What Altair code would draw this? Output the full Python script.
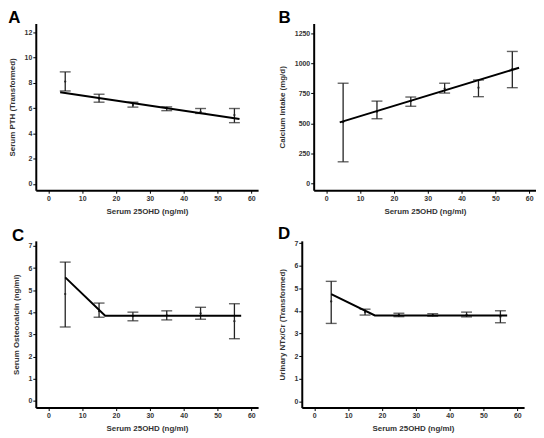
import altair as alt
import pandas as pd

x_vals = [5, 15, 25, 35, 45, 55]

# Panel A: Serum PTH (Transformed)
a_mean = [8.1, 6.75, 6.25, 6.0, 5.7, 5.45]
a_lo = [7.36, 6.47, 6.08, 5.8, 5.58, 4.85]
a_hi = [8.87, 7.1, 6.47, 6.1, 5.97, 5.97]
a_line_x = [3.5, 56.5]
a_line_y = [7.25, 5.14]

# Panel B: Calcium Intake (mg/d)
b_mean = [510, 598, 686, 790, 798, 953]
b_lo = [180, 539, 643, 753, 723, 798]
b_hi = [835, 686, 720, 835, 862, 1100]
b_line_x = [4, 57]
b_line_y = [509, 964]

# Panel C: Serum Osteocalcin (ng/ml)
c_mean = [4.83, 4.05, 3.83, 3.87, 3.95, 3.6]
c_lo = [3.34, 3.78, 3.62, 3.66, 3.69, 2.81]
c_hi = [6.27, 4.42, 4.01, 4.07, 4.23, 4.39]
c_line_x = [5, 16.8, 57]
c_line_y = [5.58, 3.85, 3.85]

# Panel D: Urinary NTx/Cr (Transformed)
d_mean = [4.42, 3.95, 3.82, 3.82, 3.83, 3.75]
d_lo = [3.45, 3.82, 3.75, 3.77, 3.74, 3.48]
d_hi = [5.31, 4.08, 3.90, 3.88, 3.95, 4.01]
d_line_x = [5, 17.9, 57]
d_line_y = [4.75, 3.80, 3.80]

x_ticks = [0, 10, 20, 30, 40, 50, 60]
FONT = "Liberation Sans"
W, H = 224, 168


def panel(letter, ytitle, mean, lo, hi, lx, ly, ydom, yticks):
    df = pd.DataFrame({"x": x_vals, "mean": mean, "lo": lo, "hi": hi})
    caps = pd.DataFrame({"x": x_vals + x_vals, "y": lo + hi})
    ln = pd.DataFrame({"x": lx, "y": ly})
    xs = alt.Scale(domain=[-3.7, 62], nice=False, zero=False)
    ys = alt.Scale(domain=ydom, nice=False, zero=False)
    xax = alt.Axis(values=x_ticks, title="Serum 25OHD (ng/ml)", format="d",
                   labelOverlap=False)
    yax = alt.Axis(values=yticks, title=ytitle, format="d", labelOverlap=False)
    X = lambda f: alt.X(f, scale=xs, axis=xax)
    Y = lambda f: alt.Y(f, scale=ys, axis=yax)
    bars = alt.Chart(df).mark_rule(color="#222222", strokeWidth=1.3).encode(
        x=X("x:Q"), y=Y("lo:Q"), y2="hi:Q",
    )
    capm = alt.Chart(caps).mark_tick(
        orient="horizontal", size=11, thickness=1.4, color="#222222"
    ).encode(x=X("x:Q"), y=Y("y:Q"))
    pts = alt.Chart(df).mark_point(filled=True, size=5, color="#222222", opacity=1).encode(
        x=X("x:Q"), y=Y("mean:Q")
    )
    line = alt.Chart(ln).mark_line(color="black", strokeWidth=2).encode(
        x=X("x:Q"), y=Y("y:Q")
    )
    return alt.layer(bars, capm, pts, line).properties(
        width=W,
        height=H,
        title=alt.TitleParams(
            letter, anchor="start", fontSize=17, fontWeight="bold",
            font=FONT, offset=-4, color="black",
        ),
    )


A = panel("A", "Serum PTH (Transformed)", a_mean, a_lo, a_hi, a_line_x, a_line_y,
          [-0.5, 12.7], [0, 2, 4, 6, 8, 10, 12])
B = panel("B", "Calcium Intake (mg/d)", b_mean, b_lo, b_hi, b_line_x, b_line_y,
          [-57, 1333], [0, 250, 500, 750, 1000, 1250])
C = panel("C", "Serum Osteocalcin  (ng/ml)", c_mean, c_lo, c_hi, c_line_x, c_line_y,
          [-0.3, 7.23], [0, 1, 2, 3, 4, 5, 6, 7])
D = panel("D", "Urinary NTx/Cr (Transformed)", d_mean, d_lo, d_hi, d_line_x, d_line_y,
          [-0.27, 7.1], [0, 1, 2, 3, 4, 5, 6, 7])

chart = alt.vconcat(
    alt.hconcat(A, B, spacing=20),
    alt.hconcat(C, D, spacing=20),
    spacing=10,
).properties(padding=0).configure_view(stroke=None).configure_axis(
    grid=False,
    domainColor="black",
    domainWidth=2,
    tickColor="black",
    tickSize=3,
    tickWidth=1,
    labelFont=FONT,
    labelFontSize=7,
    labelFontWeight="bold",
    labelColor="#333333",
    labelPadding=1,
    labelOverlap=False,
    labelBound=False,
    titleFont=FONT,
    titleFontSize=8,
    titleFontWeight="bold",
    titleColor="#333333",
).configure_axisX(titlePadding=6).configure_axisY(titlePadding=8)

chart.save("out.html", embed_options={"renderer": "svg", "actions": False})
